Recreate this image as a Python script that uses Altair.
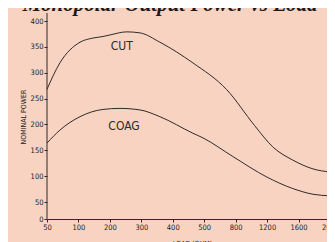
import json
import altair as alt
import pandas as pd

# ---- data ----
load_labels = ["50", "100", "200", "300", "400", "500", "800", "1200", "1600", "2000"]
y_ticks = [0, 50, 100, 150, 200, 250, 300, 350, 400]

cut_pos = [0, 0.41, 1.05, 1.46, 1.78, 2.0, 2.54, 2.96, 3.59, 4.64, 5.72, 6.6, 7.19, 7.82, 8.46, 9.0]
cut_power = [268, 319, 359, 367, 370, 373, 379, 377, 359, 319, 267, 198, 156, 131, 114, 108]

coag_pos = [0, 0.41, 1.05, 1.78, 2.32, 2.96, 3.59, 4.64, 4.96, 5.91, 7.0, 7.82, 8.46, 9.0]
coag_power = [164, 189, 215, 229, 231, 228, 215, 183, 174, 138, 98, 76, 65, 62]

series_labels = ["CUT", "COAG"]
label_pos = [2.38, 2.45]
label_power = [352, 197]

title_text = "Monopolar Output Power vs Load"

# ---- styling ----
BG = "#F9D3C1"
INK = "#2e2a2a"
NARROW = "DejaVu Sans Condensed, Liberation Sans Narrow, Roboto, sans-serif"

W, H = 280, 205

lines_df = pd.DataFrame(
    {
        "pos": cut_pos + coag_pos,
        "power": cut_power + coag_power,
        "series": ["CUT"] * len(cut_pos) + ["COAG"] * len(coag_pos),
    }
)
labels_df = pd.DataFrame({"pos": label_pos, "power": label_power, "name": series_labels})

x_enc = alt.X(
    "pos:Q",
    scale=alt.Scale(domain=[0, 9.16], range=[0, 288], nice=False, zero=False),
    axis=alt.Axis(
        values=list(range(len(load_labels))),
        tickCount=len(load_labels),
        labelExpr=f"{json.dumps(load_labels)}[datum.value]",
        title="LOAD (OHM)",
        grid=False,
        tickSize=3,
        labelPadding=1,
        titleX=145,
        titleY=20,
        titleBaseline="top",
        labelFlush=False,
        labelOverlap=False,
    ),
)
y_enc = alt.Y(
    "power:Q",
    scale=alt.Scale(domain=[0, 50, 400], range=[H, H - 17, 7], nice=False, zero=False),
    axis=alt.Axis(
        values=y_ticks,
        tickCount=len(y_ticks),
        title="NOMINAL POWER",
        grid=False,
        domain=False,
        tickSize=3,
        labelPadding=1,
        labelOverlap=False,
        titleX=-21,
        titleY=102.5,
        titleAngle=-90,
        titleBaseline="bottom",
    ),
)

lines = (
    alt.Chart(lines_df)
    .mark_line(color=INK, strokeWidth=1, interpolate="monotone")
    .encode(x=x_enc, y=y_enc, detail="series:N")
)

labels = (
    alt.Chart(labels_df)
    .mark_text(font=NARROW, fontSize=12, color=INK, align="center", baseline="middle")
    .encode(x="pos:Q", y="power:Q", text="name:N")
)

yaxis_line = (
    alt.Chart(pd.DataFrame({"k": [0]}))
    .mark_rule(color=INK, strokeWidth=1)
    .encode(x=alt.value(0), y=alt.value(-1), y2=alt.value(H))
)

title = (
    alt.Chart(pd.DataFrame({"t": [title_text]}))
    .mark_text(
        font="Liberation Serif",
        fontSize=21,
        fontStyle="italic",
        fontWeight="bold",
        color="#1a1a1a",
        align="center",
        baseline="alphabetic",
    )
    .encode(text="t:N", x=alt.value(123), y=alt.value(-3))
)

chart = (
    alt.layer(yaxis_line, lines, labels, title)
    .properties(
        width=W,
        height=H,
        autosize=alt.AutoSizeParams(type="none"),
        padding={"left": 39, "top": 6, "right": 0, "bottom": 23},
        background=BG,
    )
    .configure_view(stroke=None)
    .configure_axis(
        labelFont=NARROW,
        labelFontSize=7.5,
        labelColor="#222",
        titleFont=NARROW,
        titleFontSize=7,
        titleFontWeight="normal",
        titleColor="#222",
        tickColor=INK,
        domainColor=INK,
        domainWidth=1,
        tickWidth=1,
    )
)

chart.save("out.html", embed_options={"renderer": "svg", "actions": False})
